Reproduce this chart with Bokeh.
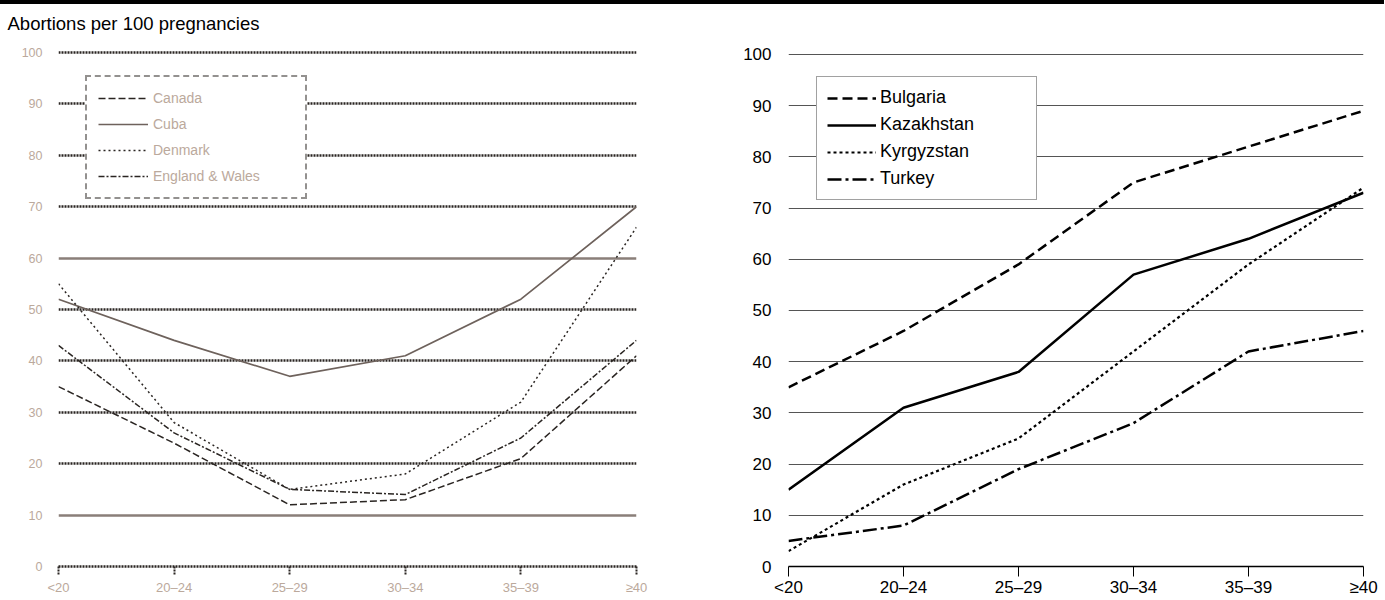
from bokeh.plotting import figure
from bokeh.models import Range1d, FixedTicker, Legend, LegendItem, Grid, Div
from bokeh.layouts import row, column
from bokeh.embed import file_html
from bokeh.resources import INLINE

# ---------------- data ----------------
age_groups = ["<20", "20–24", "25–29", "30–34", "35–39", "≥40"]
y_ticks = [0, 10, 20, 30, 40, 50, 60, 70, 80, 90, 100]

# left panel
canada = [35, 24, 12, 13, 21, 41]
cuba = [52, 44, 37, 41, 52, 70]
denmark = [55, 28, 15, 18, 32, 66]
england_wales = [43, 26, 15, 14, 25, 44]

# right panel
bulgaria = [35, 46, 59, 75, 82, 89]
kazakhstan = [15, 31, 38, 57, 64, 73]
kyrgyzstan = [3, 16, 25, 42, 59, 74]
turkey = [5, 8, 19, 28, 42, 46]

title_text = "Abortions per 100 pregnancies"

x_idx = list(range(len(age_groups)))
label_map = {i: lab for i, lab in enumerate(age_groups)}

FONT = "Liberation Sans"
TAN = "#bba99c"
DARK = "#2a2522"
FIG_H = 555
TOP = 5
BOTTOM = 32

# ---------------- title strip ----------------
pt = figure(width=1384, height=40, output_backend="svg", toolbar_location=None,
            x_axis_location=None, y_axis_location=None,
            min_border_left=0, min_border_right=0, min_border_top=30, min_border_bottom=0)
pt.outline_line_color = None
pt.grid.visible = False
pt.title.text = title_text
pt.title.text_font = FONT
pt.title.text_font_style = "normal"
pt.title.text_font_size = "18.5px"
pt.title.text_color = "black"
pt.title.align = "left"
pt.title.vertical_align = "bottom"
pt.title.offset = 7
pt.title.standoff = 2

# ---------------- left panel ----------------
p1 = figure(width=700, height=FIG_H, x_range=Range1d(0, 5), y_range=Range1d(0, 100.58),
            output_backend="svg", toolbar_location=None,
            min_border_left=58, min_border_right=64, min_border_top=TOP, min_border_bottom=BOTTOM)
p1.outline_line_color = None

p1.xgrid.visible = False
p1.ygrid.ticker = FixedTicker(ticks=[20, 30, 40, 50, 70, 80, 90, 100])
p1.ygrid.grid_line_color = DARK
p1.ygrid.grid_line_width = 2.5
p1.ygrid.grid_line_dash = "2 1"
solid_grid = Grid(dimension=1, ticker=FixedTicker(ticks=[10, 60]),
                  grid_line_color="#8a7f79", grid_line_width=2.5)
p1.add_layout(solid_grid)

p1.yaxis.ticker = FixedTicker(ticks=y_ticks)
p1.yaxis.axis_line_color = None
p1.yaxis.major_tick_line_color = None
p1.yaxis.minor_tick_line_color = None
p1.yaxis.major_label_text_font = FONT
p1.yaxis.major_label_text_font_size = "12.5px"
p1.yaxis.major_label_text_color = TAN
p1.yaxis.major_label_standoff = 10

p1.xaxis.ticker = FixedTicker(ticks=x_idx)
p1.xaxis.major_label_overrides = label_map
p1.xaxis.axis_line_color = DARK
p1.xaxis.axis_line_width = 2.5
p1.xaxis.axis_line_dash = "2 1"
p1.xaxis.major_tick_line_color = DARK
p1.xaxis.major_tick_line_width = 2
p1.xaxis.major_tick_line_dash = "2 1"
p1.xaxis.major_tick_out = 8
p1.xaxis.major_tick_in = 0
p1.xaxis.minor_tick_line_color = None
p1.xaxis.major_label_text_font = FONT
p1.xaxis.major_label_text_font_size = "13px"
p1.xaxis.major_label_text_color = TAN
p1.xaxis.major_label_standoff = 5

r_can = p1.line(x_idx, canada, line_color=DARK, line_width=1.5, line_dash="7 3")
r_cub = p1.line(x_idx, cuba, line_color="#6e625c", line_width=1.7)
r_den = p1.line(x_idx, denmark, line_color=DARK, line_width=1.5, line_dash="2 3")
r_eng = p1.line(x_idx, england_wales, line_color=DARK, line_width=1.5, line_dash="6 2 2 2")

leg1 = Legend(items=[LegendItem(label="Canada", renderers=[r_can]),
                     LegendItem(label="Cuba", renderers=[r_cub]),
                     LegendItem(label="Denmark", renderers=[r_den]),
                     LegendItem(label="England & Wales", renderers=[r_eng])],
              location=(27, 367))
leg1.border_line_color = DARK
leg1.border_line_width = 2
leg1.border_line_dash = "2 1"
leg1.background_fill_color = "white"
leg1.background_fill_alpha = 1
leg1.padding = 11
leg1.spacing = 6
leg1.glyph_width = 50
leg1.glyph_height = 20
leg1.label_height = 20
leg1.label_width = 141
leg1.label_standoff = 5
leg1.label_text_font = FONT
leg1.label_text_font_size = "14px"
leg1.label_text_color = TAN
leg1.margin = 0
p1.add_layout(leg1)

# ---------------- right panel ----------------
p2 = figure(width=684, height=FIG_H, x_range=Range1d(0, 5), y_range=Range1d(0, 100.97),
            output_backend="svg", toolbar_location=None,
            min_border_left=88, min_border_right=21, min_border_top=TOP, min_border_bottom=BOTTOM)
p2.outline_line_color = None
p2.xgrid.visible = False
p2.ygrid.ticker = FixedTicker(ticks=y_ticks[1:])
p2.ygrid.grid_line_color = "#555555"
p2.ygrid.grid_line_width = 1

p2.yaxis.ticker = FixedTicker(ticks=y_ticks)
p2.yaxis.axis_line_color = None
p2.yaxis.major_tick_line_color = None
p2.yaxis.minor_tick_line_color = None
p2.yaxis.major_label_text_font = FONT
p2.yaxis.major_label_text_font_size = "17px"
p2.yaxis.major_label_text_color = "black"
p2.yaxis.major_label_standoff = 11

p2.xaxis.ticker = FixedTicker(ticks=x_idx)
p2.xaxis.major_label_overrides = label_map
p2.xaxis.axis_line_color = "black"
p2.xaxis.axis_line_width = 1.5
p2.xaxis.major_tick_line_color = "black"
p2.xaxis.major_tick_line_width = 1
p2.xaxis.major_tick_out = 10
p2.xaxis.major_tick_in = 0
p2.xaxis.minor_tick_line_color = None
p2.xaxis.major_label_text_font = FONT
p2.xaxis.major_label_text_font_size = "17px"
p2.xaxis.major_label_text_color = "black"
p2.xaxis.major_label_standoff = 1

r_bul = p2.line(x_idx, bulgaria, line_color="black", line_width=2.5, line_dash="10 5")
r_kaz = p2.line(x_idx, kazakhstan, line_color="black", line_width=2.5)
r_kyr = p2.line(x_idx, kyrgyzstan, line_color="black", line_width=2.2, line_dash="3 3")
r_tur = p2.line(x_idx, turkey, line_color="black", line_width=2.5, line_dash="14 4 3 4")

leg2 = Legend(items=[LegendItem(label="Bulgaria", renderers=[r_bul]),
                     LegendItem(label="Kazakhstan", renderers=[r_kaz]),
                     LegendItem(label="Kyrgyzstan", renderers=[r_kyr]),
                     LegendItem(label="Turkey", renderers=[r_tur])],
              location=(28, 366))
leg2.border_line_color = "#444444"
leg2.border_line_width = 1
leg2.background_fill_color = "white"
leg2.background_fill_alpha = 1
leg2.padding = 10
leg2.spacing = 6
leg2.glyph_width = 49
leg2.glyph_height = 20
leg2.label_height = 20
leg2.label_width = 146
leg2.label_standoff = 4
leg2.label_text_font = FONT
leg2.label_text_font_size = "18px"
leg2.label_text_color = "black"
leg2.margin = 0
p2.add_layout(leg2)

bar = Div(text="", width=1384, height=4, margin=0,
          styles={"background-color": "black"})

layout = column(bar, pt, row(p1, p2))
open("out.html", "w").write(file_html(layout, INLINE))
